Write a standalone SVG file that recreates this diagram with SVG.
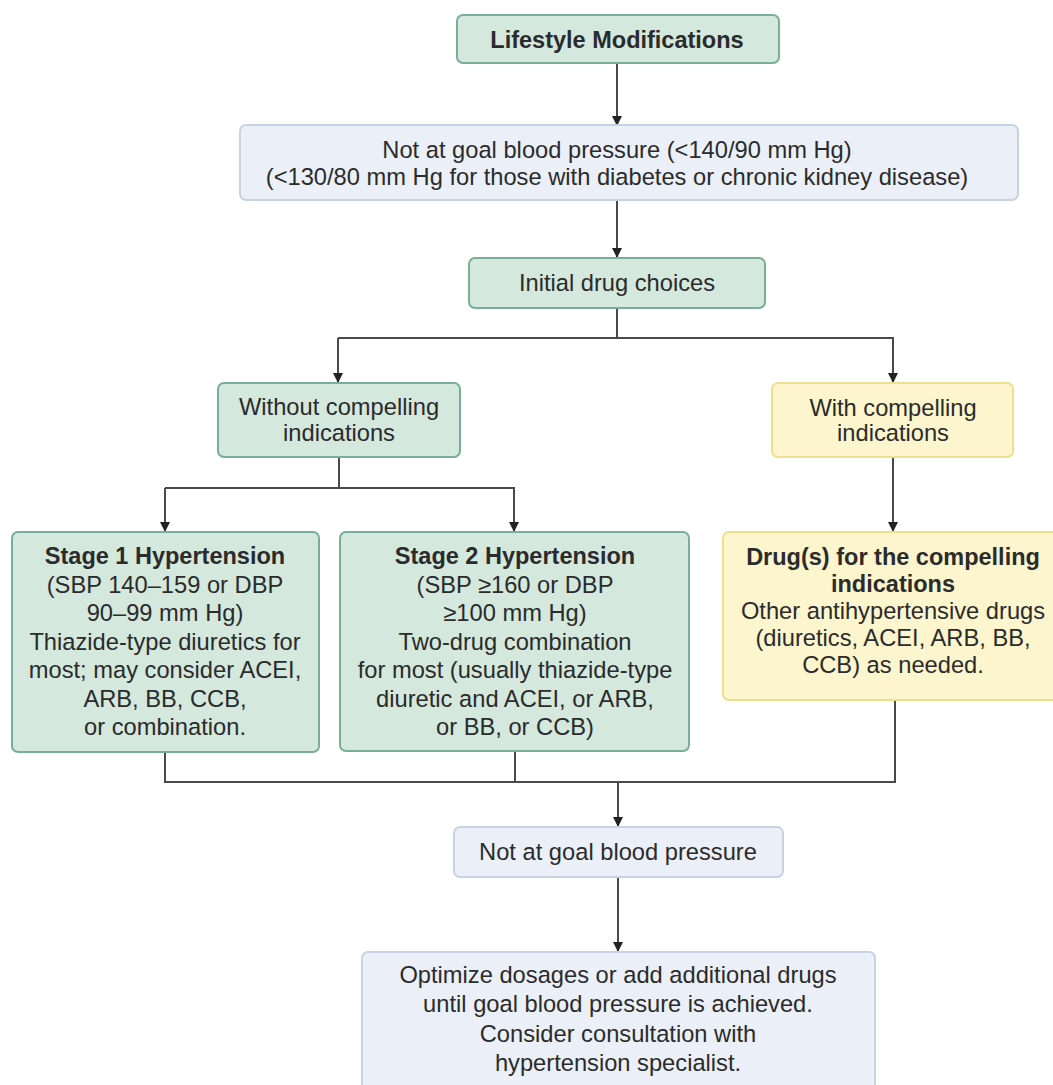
<svg xmlns="http://www.w3.org/2000/svg" width="1053" height="1085" viewBox="0 0 1053 1085">
<defs>
<style>
.t{font-family:"Liberation Sans",Arial,Helvetica,sans-serif;font-size:23.7px;fill:#2b2b2b;text-anchor:middle}
.b{font-weight:bold;font-size:23.5px}
.g{fill:#d4e8dd;stroke:#79ae98;stroke-width:2}
.bl{fill:#ebf0f8;stroke:#c6d3e2;stroke-width:2}
.y{fill:#fcf5cd;stroke:#eedf8c;stroke-width:2}
.c{fill:none;stroke:#4a4a4a;stroke-width:2}
</style>
<marker id="ah" viewBox="0 0 10 10" refX="9" refY="5" markerWidth="10" markerHeight="10" markerUnits="userSpaceOnUse" orient="auto">
<path d="M0,0 L10,5 L0,10 z" fill="#222"/>
</marker>
</defs>
<rect width="1053" height="1085" fill="#ffffff"/>

<g id="connectors">
<line class="c" x1="617" y1="63" x2="617" y2="125" marker-end="url(#ah)"/>
<line class="c" x1="617" y1="200" x2="617" y2="257" marker-end="url(#ah)"/>
<polyline class="c" points="617,308 617,338"/>
<polyline class="c" points="338,338 893,338 893,382" marker-end="url(#ah)"/>
<line class="c" x1="338" y1="338" x2="338" y2="382" marker-end="url(#ah)"/>
<polyline class="c" points="339,457 339,488"/>
<polyline class="c" points="165,488 514,488 514,531" marker-end="url(#ah)"/>
<line class="c" x1="165" y1="488" x2="165" y2="531" marker-end="url(#ah)"/>
<line class="c" x1="893" y1="457" x2="893" y2="531" marker-end="url(#ah)"/>
<polyline class="c" points="165,753 165,782 895,782 895,700"/>
<line class="c" x1="515" y1="751" x2="515" y2="782"/>
<line class="c" x1="618" y1="782" x2="618" y2="826" marker-end="url(#ah)"/>
<line class="c" x1="618" y1="877" x2="618" y2="951" marker-end="url(#ah)"/>
</g>

<g id="lifestyle">
<rect class="g" x="457" y="15" width="322" height="48" rx="6"/>
<text class="t b" x="617" y="48">Lifestyle Modifications</text>
</g>

<g id="not-at-goal-1">
<rect class="bl" x="240" y="125" width="778" height="75" rx="6"/>
<text class="t" x="617" y="158">Not at goal blood pressure (&lt;140/90 mm Hg)</text>
<text class="t" x="617" y="185">(&lt;130/80 mm Hg for those with diabetes or chronic kidney disease)</text>
</g>

<g id="initial">
<rect class="g" x="469" y="258" width="296" height="50" rx="6"/>
<text class="t" x="617" y="291">Initial drug choices</text>
</g>

<g id="without">
<rect class="g" x="218" y="383" width="242" height="74" rx="6"/>
<text class="t" x="339" y="415">Without compelling</text>
<text class="t" x="339" y="441">indications</text>
</g>

<g id="with">
<rect class="y" x="772" y="383" width="241" height="74" rx="6"/>
<text class="t" x="893" y="416">With compelling</text>
<text class="t" x="893" y="441">indications</text>
</g>

<g id="stage1">
<rect class="g" x="12" y="532" width="307" height="220" rx="6"/>
<text class="t b" x="165" y="564">Stage 1 Hypertension</text>
<text class="t" x="165" y="593">(SBP 140–159 or DBP</text>
<text class="t" x="165" y="621">90–99 mm Hg)</text>
<text class="t" x="165" y="650">Thiazide-type diuretics for</text>
<text class="t" x="165" y="678">most; may consider ACEI,</text>
<text class="t" x="165" y="707">ARB, BB, CCB,</text>
<text class="t" x="165" y="735">or combination.</text>
</g>

<g id="stage2">
<rect class="g" x="340" y="532" width="349" height="219" rx="6"/>
<text class="t b" x="515" y="564">Stage 2 Hypertension</text>
<text class="t" x="515" y="593">(SBP ≥160 or DBP</text>
<text class="t" x="515" y="621">≥100 mm Hg)</text>
<text class="t" x="515" y="650">Two-drug combination</text>
<text class="t" x="515" y="678">for most (usually thiazide-type</text>
<text class="t" x="515" y="707">diuretic and ACEI, or ARB,</text>
<text class="t" x="515" y="735">or BB, or CCB)</text>
</g>

<g id="compelling-drugs">
<rect class="y" x="723" y="532" width="340" height="168" rx="6"/>
<text class="t b" x="893" y="565">Drug(s) for the compelling</text>
<text class="t b" x="893" y="592">indications</text>
<text class="t" x="893" y="619">Other antihypertensive drugs</text>
<text class="t" x="893" y="646">(diuretics, ACEI, ARB, BB,</text>
<text class="t" x="893" y="673">CCB) as needed.</text>
</g>

<g id="not-at-goal-2">
<rect class="bl" x="454" y="827" width="329" height="50" rx="6"/>
<text class="t" x="618" y="860">Not at goal blood pressure</text>
</g>

<g id="optimize">
<rect class="bl" x="362" y="952" width="513" height="145" rx="6"/>
<text class="t" x="618" y="983">Optimize dosages or add additional drugs</text>
<text class="t" x="618" y="1012">until goal blood pressure is achieved.</text>
<text class="t" x="618" y="1042">Consider consultation with</text>
<text class="t" x="618" y="1071">hypertension specialist.</text>
</g>
</svg>
